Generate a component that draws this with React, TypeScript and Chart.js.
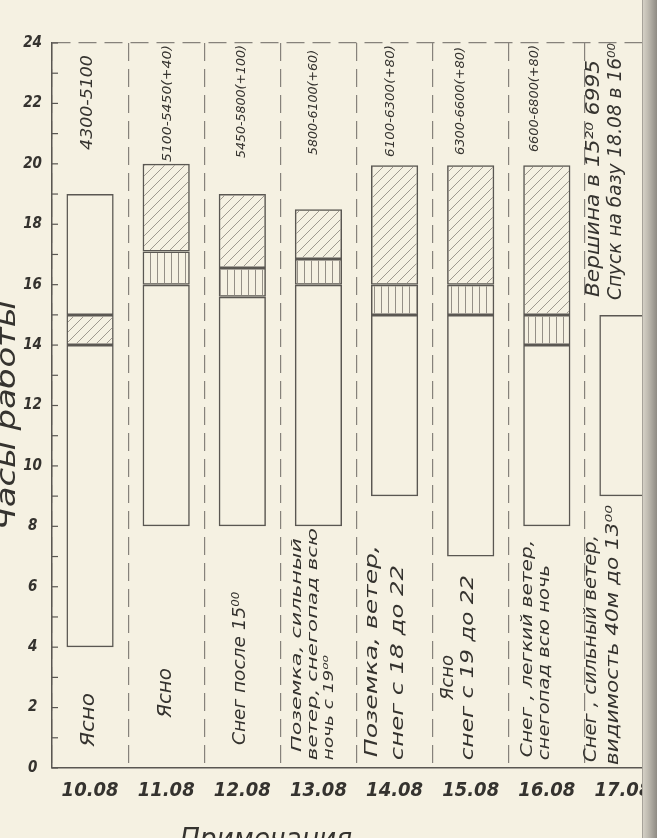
import React, { useEffect, useRef } from 'react';
import { Chart, registerables } from 'chart.js';

Chart.register(...registerables);

// ---------- data ----------
const days = ['10.08', '11.08', '12.08', '13.08', '14.08', '15.08', '16.08', '17.08'];

// plain (working) part, lower block
const workLower: ([number, number] | null)[] = [
  [4, 14], [8, 16], [8, 15.6], [8, 16], [9, 15], [7, 15], [8, 14], [9, 15],
];
// vertically hatched block
const vertHatch: ([number, number] | null)[] = [
  null, [16, 17.1], [15.6, 16.55], [16, 16.85], [15, 16], [15, 16], [14, 15], null,
];
// diagonally hatched block
const diagHatch: ([number, number] | null)[] = [
  [14, 15], [17.1, 20], [16.55, 19], [16.85, 18.5], [16, 19.95], [16, 19.95], [15, 19.95], null,
];
// plain block above the hatch (10.08 only)
const workUpper: ([number, number] | null)[] = [
  [15, 19], null, null, null, null, null, null, null,
];

const altitudes = [
  '4300-5100', '5100-5450(+40)', '5450-5800(+100)', '5800-6100(+60)',
  '6100-6300(+80)', '6300-6600(+80)', '6600-6800(+80)', '',
];
const summitNote = ['Вершина в 15²⁰ 6995', 'Спуск на базу 18.08 в 16⁰⁰'];
const notes: string[][] = [
  ['Ясно'],
  ['Ясно'],
  ['Снег после 15⁰⁰'],
  ['Поземка, сильный', 'ветер, снегопад всю', 'ночь с 19⁰⁰'],
  ['Поземка, ветер,', 'снег с 18 до 22'],
  ['Ясно', 'снег с 19 до 22'],
  ['Снег , легкий ветер,', 'снегопад всю ночь'],
  ['Снег , сильный ветер,', 'видимость 40м до 13⁰⁰'],
];
const yTitle = 'Часы работы';
const xTitle = 'Примечания';

// ---------- layout: [offset from category centre px, start hour, end hour, font px] ----------
const altLayout: [number, number, number, number][] = [
  [-2, 20.46, 23.6, 15], [1, 20.06, 23.93, 13], [-1, 20.19, 23.93, 13], [-5, 20.29, 23.77, 13],
  [-4, 20.23, 23.93, 13], [-10, 20.29, 23.87, 13], [-12, 20.39, 23.93, 13], [0, 0, 0, 13],
];
const summitLayout: [number, number, number, number][] = [[-29, 15.59, 23.44, 19], [-7, 15.49, 24.0, 19]];
const noteLayout: [number, number, number, number][][] = [
  [[-1, 0.7, 2.48, 20]],
  [[0, 1.66, 3.31, 20]],
  [[-2, 0.76, 5.83, 18]],
  [[-21, 0.53, 7.61, 13.5], [-5, 0.26, 7.94, 13.5], [11, 0.26, 3.74, 13.5]],
  [[-22, 0.36, 7.38, 18], [4, 0.26, 6.72, 18]],
  [[-22, 2.25, 3.74, 17], [-2, 0.26, 6.39, 17]],
  [[-19, 0.36, 7.55, 16], [-2, 0.26, 6.72, 16]],
  [[-31, 0.2, 7.71, 17], [-9, 0.1, 8.7, 17]],
];

const PAPER = '#f5f1e2';
const INK = '#35332f';
const LINE = '#5a5752';
const HATCH = '#948f86';
const DASH = '#86827b';
const HAND = "'DejaVu Sans Condensed', 'DejaVu Sans', sans-serif";

function makeDiag(): CanvasPattern | string {
  const c = document.createElement('canvas');
  c.width = 10; c.height = 10;
  const g = c.getContext('2d');
  if (!g) return 'transparent';
  g.strokeStyle = HATCH; g.lineWidth = 0.9;
  g.beginPath();
  g.moveTo(-1, 11); g.lineTo(11, -1);
  g.moveTo(-1, 1); g.lineTo(1, -1);
  g.moveTo(9, 11); g.lineTo(11, 9);
  g.stroke();
  return g.createPattern(c, 'repeat') || 'transparent';
}
function makeVert(): CanvasPattern | string {
  const c = document.createElement('canvas');
  c.width = 7; c.height = 4;
  const g = c.getContext('2d');
  if (!g) return 'transparent';
  g.strokeStyle = HATCH; g.lineWidth = 1;
  g.beginPath(); g.moveTo(3.5, 0); g.lineTo(3.5, 4); g.stroke();
  return g.createPattern(c, 'repeat') || 'transparent';
}

function fitText(ctx: CanvasRenderingContext2D, text: string, x: number, y: number, len: number, font: string,
  align: CanvasTextAlign = 'left', baseline: CanvasTextBaseline = 'middle', angle = -Math.PI / 2) {
  ctx.save();
  ctx.font = font;
  ctx.translate(x, y);
  ctx.rotate(angle);
  const w = ctx.measureText(text).width || 1;
  ctx.scale(len / w, 1);
  ctx.textAlign = align;
  ctx.textBaseline = baseline;
  ctx.fillStyle = INK;
  ctx.fillText(text, 0, 0);
  ctx.restore();
}

const decor = {
  id: 'decor',
  beforeDraw(chart: any) {
    const ctx = chart.ctx;
    ctx.save();
    ctx.fillStyle = PAPER;
    ctx.fillRect(0, 0, chart.width, chart.height);
    ctx.restore();
  },
  afterDraw(chart: any) {
    const ctx: CanvasRenderingContext2D = chart.ctx;
    const xs = chart.scales.x;
    const ys = chart.scales.y;
    const area = chart.chartArea;
    // hour ticks on the axis
    ctx.save();
    ctx.strokeStyle = LINE; ctx.lineWidth = 1.2;
    for (let h = 0; h <= 24; h++) {
      const y = ys.getPixelForValue(h);
      ctx.beginPath(); ctx.moveTo(area.left, y); ctx.lineTo(area.left + 6, y); ctx.stroke();
    }
    ctx.restore();
    // altitude labels
    altitudes.forEach((t, i) => {
      if (!t) return;
      const [dx, h0, h1, fs] = altLayout[i];
      const x = xs.getPixelForValue(i) + dx;
      const y0 = ys.getPixelForValue(h0);
      const y1 = ys.getPixelForValue(h1);
      fitText(ctx, t, x, y0, y0 - y1, `italic ${fs}px ${HAND}`);
    });
    // summit note (last column)
    summitNote.forEach((t, k) => {
      const [dx, h0, h1, fs] = summitLayout[k];
      const x = xs.getPixelForValue(days.length - 1) + dx;
      const y0 = ys.getPixelForValue(h0);
      const y1 = ys.getPixelForValue(h1);
      fitText(ctx, t, x, y0, y0 - y1, `italic ${fs}px ${HAND}`);
    });
    // weather notes
    notes.forEach((lines, i) => {
      lines.forEach((t, k) => {
        const [dx, h0, h1, fs] = noteLayout[i][k];
        const x = xs.getPixelForValue(i) + dx;
        const y0 = ys.getPixelForValue(h0);
        const y1 = ys.getPixelForValue(h1);
        fitText(ctx, t, x, y0, y0 - y1, `italic ${fs}px ${HAND}`);
      });
    });
    // axis titles
    fitText(ctx, yTitle, 15, (area.top + area.bottom) / 2 + 10, 230, `italic 26px ${HAND}`, 'center', 'alphabetic');
    fitText(ctx, xTitle, 266, 848, 172, `italic 28px ${HAND}`, 'center', 'alphabetic', 0);
    // page edge on the right
    ctx.save();
    const g = ctx.createLinearGradient(642, 0, 657, 0);
    g.addColorStop(0, '#d9d5ca');
    g.addColorStop(0.4, '#bfbbb1');
    g.addColorStop(1, '#8e8a83');
    ctx.fillStyle = g;
    ctx.fillRect(642, 0, chart.width - 642, chart.height);
    ctx.strokeStyle = '#a7a39a'; ctx.lineWidth = 1;
    ctx.beginPath(); ctx.moveTo(642.5, 0); ctx.lineTo(642.5, chart.height); ctx.stroke();
    ctx.restore();
  },
};

export default function App() {
  const ref = useRef<HTMLCanvasElement | null>(null);
  useEffect(() => {
    const canvas = ref.current;
    if (!canvas) return;
    const diag = makeDiag();
    const vert = makeVert();
    const common = {
      borderColor: LINE,
      borderWidth: 1.5,
      borderSkipped: false as const,
      barPercentage: 0.62,
      categoryPercentage: 1,
    };
    const chart = new Chart(canvas, {
      type: 'bar',
      data: {
        labels: days,
        datasets: [
          { label: 'work', data: workLower as any, backgroundColor: 'rgba(0,0,0,0)', ...common },
          { label: 'vert', data: vertHatch as any, backgroundColor: vert as any, ...common },
          { label: 'diag', data: diagHatch as any, backgroundColor: diag as any, ...common },
          { label: 'work2', data: workUpper as any, backgroundColor: 'rgba(0,0,0,0)', ...common },
        ],
      },
      options: {
        responsive: false,
        animation: false,
        devicePixelRatio: 1,
        layout: { padding: { left: 0, top: 43, right: 9, bottom: 0 } },
        datasets: { bar: { grouped: false } },
        plugins: { legend: { display: false }, tooltip: { enabled: false }, title: { display: false } },
        scales: {
          x: {
            type: 'category',
            offset: true,
            grid: { offset: true, color: DASH, lineWidth: 1.2, drawTicks: false },
            border: { display: true, color: LINE, width: 1.5, dash: [18, 8] },
            ticks: {
              color: INK, padding: 11, maxRotation: 0, autoSkip: false,
              font: { family: HAND, size: 20, style: 'italic', weight: 'bold' },
            },
            afterFit: (s: any) => { s.height = 70; },
          },
          y: {
            min: 0, max: 24,
            ticks: {
              stepSize: 2, padding: 10, crossAlign: 'center', color: INK,
              font: { family: HAND, size: 15, style: 'italic', weight: 'bold' },
            },
            grid: {
              color: (c: any) => (c.tick && c.tick.value === 24 ? DASH : 'rgba(0,0,0,0)'),
              lineWidth: 1.2, drawTicks: false,
            },
            border: { display: true, color: LINE, width: 1.5, dash: [18, 8] },
            afterFit: (s: any) => { s.width = 52; },
          },
        },
      },
      plugins: [decor],
    });
    return () => chart.destroy();
  }, []);
  return (
    <div style={{ position: 'absolute', left: 0, top: 0, width: 657, height: 838, overflow: 'hidden', background: PAPER }}>
      <canvas ref={ref} width={670} height={838} style={{ display: 'block', width: 670, height: 838 }} />
    </div>
  );
}
